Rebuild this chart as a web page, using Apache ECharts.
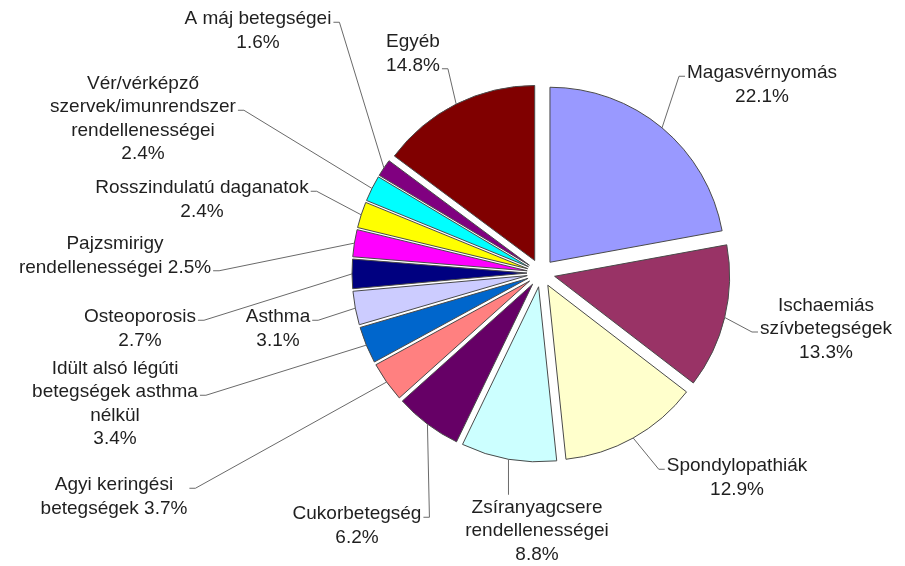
<!DOCTYPE html>
<html>
<head>
<meta charset="utf-8">
<script src="https://cdn.jsdelivr.net/npm/echarts@6/dist/echarts.min.js"></script>
<style>
  html, body { margin: 0; padding: 0; background: #ffffff; }
  #main { width: 905px; height: 566px; }
</style>
</head>
<body>
<div id="main"></div>
<script>
// Disease groups, clockwise from 12 o'clock
const categories = [
  'Magasvérnyomás',
  'Ischaemiás szívbetegségek',
  'Spondylopathiák',
  'Zsíranyagcsere rendellenességei',
  'Cukorbetegség',
  'Agyi keringési betegségek',
  'Idült alsó légúti betegségek asthma nélkül',
  'Asthma',
  'Osteoporosis',
  'Pajzsmirigy rendellenességei',
  'Rosszindulatú daganatok',
  'Vér/vérképző szervek/imunrendszer rendellenességei',
  'A máj betegségei',
  'Egyéb'
];

// Share of each group, percent
const shares = [22.1, 13.3, 12.9, 8.8, 6.2, 3.7, 3.4, 3.1, 2.7, 2.5, 2.4, 2.4, 1.6, 14.8];

// Slice fills
const colors = [
  '#9999ff', '#993366', '#ffffcc', '#ccffff', '#660066', '#ff8080', '#0066cc',
  '#ccccff', '#000080', '#ff00ff', '#ffff00', '#00ffff', '#800080', '#800000'
];

// How each label is wrapped; {p} is replaced by the percentage
const labelText = [
  'Magasvérnyomás\n{p}',
  'Ischaemiás\nszívbetegségek\n{p}',
  'Spondylopathiák\n{p}',
  'Zsíranyagcsere\nrendellenességei\n{p}',
  'Cukorbetegség\n{p}',
  'Agyi keringési\nbetegségek {p}',
  'Idült alsó légúti\nbetegségek asthma\nnélkül\n{p}',
  'Asthma\n{p}',
  'Osteoporosis\n{p}',
  'Pajzsmirigy\nrendellenességei {p}',
  'Rosszindulatú daganatok\n{p}',
  'Vér/vérképző\nszervek/imunrendszer\nrendellenességei\n{p}',
  'A máj betegségei\n{p}',
  'Egyéb\n{p}'
];

// Label placement: centre x, centre y, side the leader joins ('L', 'R', 'T'), line it joins
const labelSpots = [
  [762, 85, 'L', 0],
  [826, 329, 'L', 1],
  [737, 478, 'L', 0],
  [537, 531, 'T', 0],
  [357, 526, 'R', 0],
  [114, 497, 'R', 0],
  [115, 404, 'R', 1],
  [278, 329, 'R', 0],
  [140, 329, 'R', 0],
  [115, 256, 'R', 1],
  [202, 200, 'R', 0],
  [143, 119, 'R', 1],
  [258, 31, 'R', 0],
  [413, 54, 'R', 1]
];

const CENTER = [541, 273];
const RADIUS = 175;
const EXPLODE = 14;
const LINE_H = 23.5;

const chart = echarts.init(document.getElementById('main'), null, { renderer: 'canvas' });

// Exploded slices
const sliceData = categories.map(function (name, i) {
  return {
    name: name,
    value: shares[i],
    selected: true,
    itemStyle: { color: colors[i] }
  };
});

// Same angles, invisible, carrying the labels and leader lines
const labelData = categories.map(function (name, i) {
  return { name: name, value: shares[i] };
});

chart.setOption({
  animation: false,
  backgroundColor: '#ffffff',
  series: [{
    type: 'pie',
    silent: true,
    center: CENTER,
    radius: [0, RADIUS],
    startAngle: 90,
    clockwise: true,
    selectedMode: 'multiple',
    selectedOffset: EXPLODE,
    emphasis: { disabled: true },
    itemStyle: { borderColor: '#4a4a4a', borderWidth: 1 },
    label: { show: false },
    labelLine: { show: false },
    data: sliceData
  }, {
    type: 'pie',
    silent: true,
    z: 3,
    center: CENTER,
    radius: [0, RADIUS],
    startAngle: 90,
    clockwise: true,
    selectedMode: false,
    avoidLabelOverlap: false,
    emphasis: { disabled: true },
    itemStyle: { color: 'rgba(0,0,0,0)', borderWidth: 0 },
    label: {
      show: true,
      position: 'outside',
      fontFamily: 'Liberation Sans, Arial, sans-serif',
      fontSize: 19,
      lineHeight: LINE_H,
      color: '#1f1f1f',
      align: 'center',
      formatter: function (p) {
        return labelText[p.dataIndex].replace('{p}', p.value.toFixed(1) + '%');
      }
    },
    labelLine: {
      show: true,
      length: 10,
      length2: 10,
      lineStyle: { color: '#6a6a6a', width: 1 }
    },
    labelLayout: function (params) {
      const spot = labelSpots[params.dataIndex];
      const w = params.labelRect.width;
      const h = params.labelRect.height;
      const cx = spot[0], cy = spot[1];
      const left = cx - w / 2, right = cx + w / 2, top = cy - h / 2;

      // leader starts on the rim of the slice, pushed out with it
      const p0 = params.labelLinePoints[0];
      const vx = p0[0] - CENTER[0], vy = p0[1] - CENTER[1];
      const len = Math.sqrt(vx * vx + vy * vy) || 1;
      const start = [p0[0] + vx / len * EXPLODE, p0[1] + vy / len * EXPLODE];

      let attach, elbow;
      if (spot[2] === 'T') {
        attach = [start[0], top - 1];
        elbow = [start[0], top - 1];
      } else {
        const ay = top + LINE_H * (spot[3] + 0.5) + 3;
        if (spot[2] === 'R') {
          attach = [right + 2, ay];
          elbow = [right + 8, ay];
        } else {
          attach = [left - 2, ay];
          elbow = [left - 8, ay];
        }
      }
      return {
        x: cx,
        y: cy,
        align: 'center',
        verticalAlign: 'middle',
        labelLinePoints: [start, elbow, attach]
      };
    },
    data: labelData
  }]
});
</script>
</body>
</html>
